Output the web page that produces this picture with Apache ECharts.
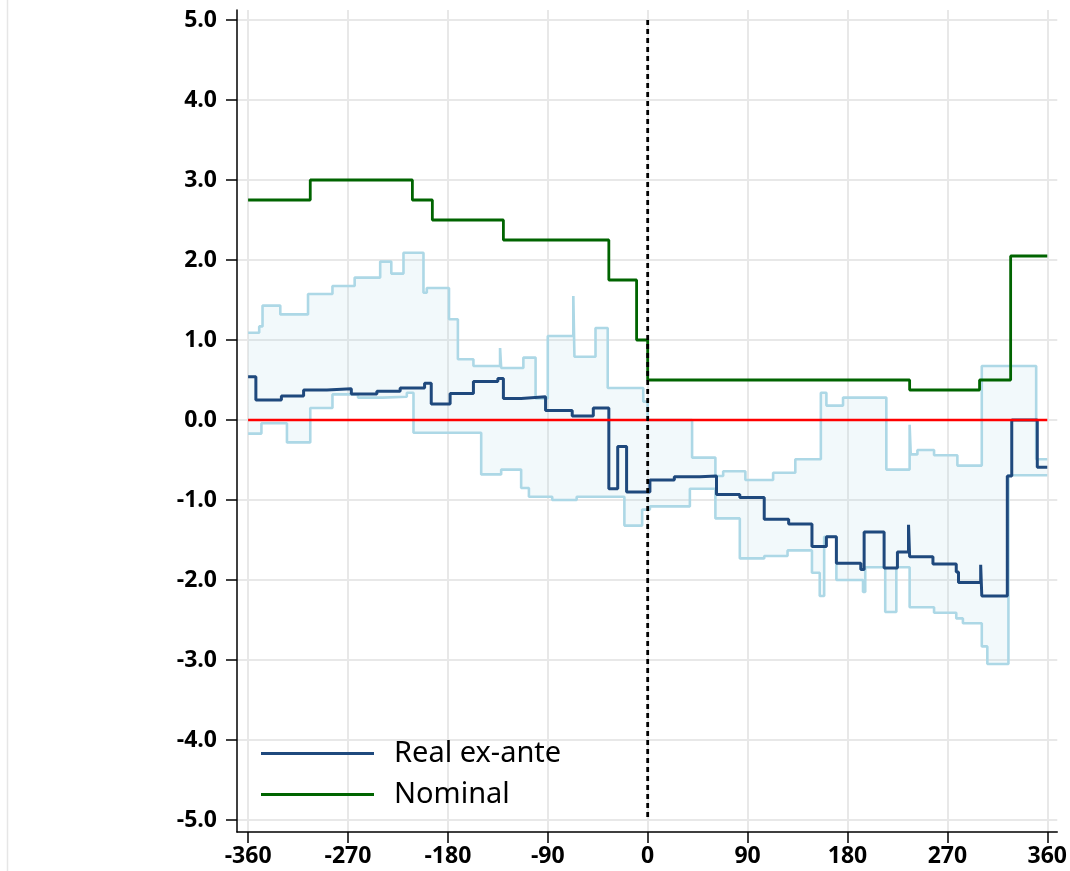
<!DOCTYPE html>
<html>
<head>
<meta charset="utf-8">
<script src="https://cdn.jsdelivr.net/npm/echarts@6/dist/echarts.min.js"></script>
<style>html,body{margin:0;padding:0;background:#fff;}#c{width:1070px;height:871px;}</style>
</head>
<body>
<div id="c"></div>
<script>
// step data: [day, value] — value holds from this day until the next entry
const xTicks = [-360, -270, -180, -90, 0, 90, 180, 270, 360];
const yTicks = [-5, -4, -3, -2, -1, 0, 1, 2, 3, 4, 5];

const nominal = [[-360,2.75],[-304,3.0],[-212,2.75],[-194,2.5],[-130,2.25],[-35,1.75],[-10,1.0],[0,0.5],[236,0.375],[299,0.5],[327,2.05],[360,2.05]];

const realExAnte = [[-360,0.54],[-353,0.25],[-330,0.30],[-310,0.375],[-289,0.39],[-267,0.325],[-244,0.36],[-223,0.40],[-201,0.46],[-195,0.2],[-178,0.33],[-157,0.48],[-135,0.52],[-130,0.27],[-114,0.29],[-92,0.12],[-68,0.05],[-49,0.15],[-35,-0.86],[-27,-0.33],[-19,-0.9],[2,-0.75],[24,-0.71],[47,-0.70],[62,-0.93],[83,-0.97],[105,-1.24],[127,-1.3],[148,-1.58],[161,-1.46],[170,-1.79],[192,-1.87],[195,-1.40],[213,-1.85],[225,-1.65],[235,-1.31],[236,-1.71],[257,-1.8],[278,-1.9],[280,-2.03],[300,-1.81],[301,-2.2],[324,-0.7],[328,0.0],[351,-0.59],[360,-0.59]];

const bandUpper = [[-360,1.09],[-350,1.17],[-347,1.43],[-331,1.32],[-306,1.575],[-284,1.675],[-264,1.78],[-241,1.98],[-231,1.83],[-220,2.09],[-202,1.59],[-199,1.65],[-179,1.26],[-171,0.76],[-157,0.675],[-133,0.9],[-132,0.65],[-112,0.78],[-101,0.27],[-90,1.05],[-67,1.55],[-66,0.79],[-47,1.15],[-36,0.4],[-4,0.23],[0,0.0],[40,-0.47],[61,-0.7],[68,-0.64],[88,-0.75],[113,-0.66],[133,-0.49],[156,0.34],[161,0.18],[176,0.28],[215,-0.62],[236,-0.06],[237,-0.43],[243,-0.375],[258,-0.44],[279,-0.57],[301,0.675],[350,-0.49],[360,-0.49]];

const bandLower = [[-360,-0.17],[-348,-0.04],[-325,-0.28],[-304,0.15],[-284,0.32],[-261,0.28],[-239,0.29],[-217,0.34],[-211,-0.16],[-150,-0.68],[-132,-0.62],[-114,-0.85],[-107,-0.96],[-86,-1.0],[-64,-0.96],[-21,-1.32],[-5,-1.12],[2,-1.08],[38,-0.86],[61,-1.23],[83,-1.73],[105,-1.7],[126,-1.63],[148,-1.91],[155,-2.2],[159,-1.46],[170,-2.0],[194,-2.15],[196,-1.84],[214,-2.4],[224,-1.84],[236,-2.34],[258,-2.41],[278,-2.48],[284,-2.54],[301,-2.83],[306,-3.05],[325,-0.69],[360,-0.69]];

const zeroLine = [[-360,0],[360,0]];
const eventLine = [[0,5],[0,-5]];

function stepPts(arr){
  const out=[];
  for(let i=0;i<arr.length;i++){
    out.push([arr[i][0],arr[i][1]]);
    if(i<arr.length-1) out.push([arr[i+1][0],arr[i][1]]);
  }
  return out;
}

const chart = echarts.init(document.getElementById('c'), null, {renderer:'canvas'});
chart.setOption({
  animation:false,
  backgroundColor:'#fff',
  graphic:[{type:'line', shape:{x1:7.5,y1:0,x2:7.5,y2:871}, style:{stroke:'#e6e6e6', lineWidth:1.5}, silent:true}],
  grid:{left:237, right:12, top:10, bottom:39, containLabel:false},
  legend:{
    orient:'vertical', left:256, top:734, itemWidth:113, itemHeight:3, itemGap:12,
    data:[{name:'Real ex-ante', icon:'rect'},{name:'Nominal', icon:'rect'}],
    textStyle:{fontFamily:'Noto Sans', fontSize:29, color:'#000', padding:[0,0,0,15]}
  },
  xAxis:{
    type:'value', min:-370, max:369,
    axisLine:{show:true, onZero:false, lineStyle:{color:'#000', width:1.5}},
    axisTick:{show:true, inside:false, length:11, customValues:xTicks, lineStyle:{color:'#000', width:1.5}},
    axisLabel:{customValues:xTicks, margin:13, fontFamily:'Open Sans', fontWeight:'bold', fontSize:23, color:'#000'},
    splitLine:{show:true, lineStyle:{color:'#e8e8e8', width:2}}
  },
  yAxis:{
    type:'value', min:-5.15, max:5.125,
    axisLine:{show:true, onZero:false, lineStyle:{color:'#000', width:1.5}},
    axisTick:{show:true, inside:false, length:11, customValues:yTicks, lineStyle:{color:'#000', width:1.5}},
    axisLabel:{customValues:yTicks, margin:20, formatter:v=>v.toFixed(1), fontFamily:'Open Sans', fontWeight:'bold', fontSize:23, color:'#000'},
    splitLine:{show:true, lineStyle:{color:'#e8e8e8', width:2}}
  },
  series:[
    {
      type:'custom', name:'band', silent:true, z:1,
      data:[0],
      renderItem:function(params, api){
        const up = stepPts(bandUpper).map(p=>api.coord(p));
        const lo = stepPts(bandLower).reverse().map(p=>api.coord(p));
        return {type:'polygon', shape:{points:up.concat(lo)}, style:{fill:'rgba(173,216,230,0.16)', stroke:'none'}};
      }
    },
    {type:'line', name:'upper', data:bandUpper, step:'end', symbol:'none', z:2, lineStyle:{color:'#add8e6', width:2.6}},
    {type:'line', name:'lower', data:bandLower, step:'end', symbol:'none', z:2, lineStyle:{color:'#add8e6', width:2.6}},
    {type:'line', name:'Real ex-ante', data:realExAnte, step:'end', symbol:'none', z:3, color:'#1f497d', lineStyle:{color:'#1f497d', width:3}},
    {type:'line', name:'Nominal', data:nominal, step:'end', symbol:'none', z:4, color:'#006400', lineStyle:{color:'#006400', width:2.8}},
    {type:'line', name:'zero', data:zeroLine, symbol:'none', z:5, lineStyle:{color:'#ff0000', width:2.6}},
    {type:'line', name:'event', data:eventLine, symbol:'none', z:6, lineStyle:{color:'#000', width:2.8, type:[5,4]}}
  ]
});
</script>
</body>
</html>
